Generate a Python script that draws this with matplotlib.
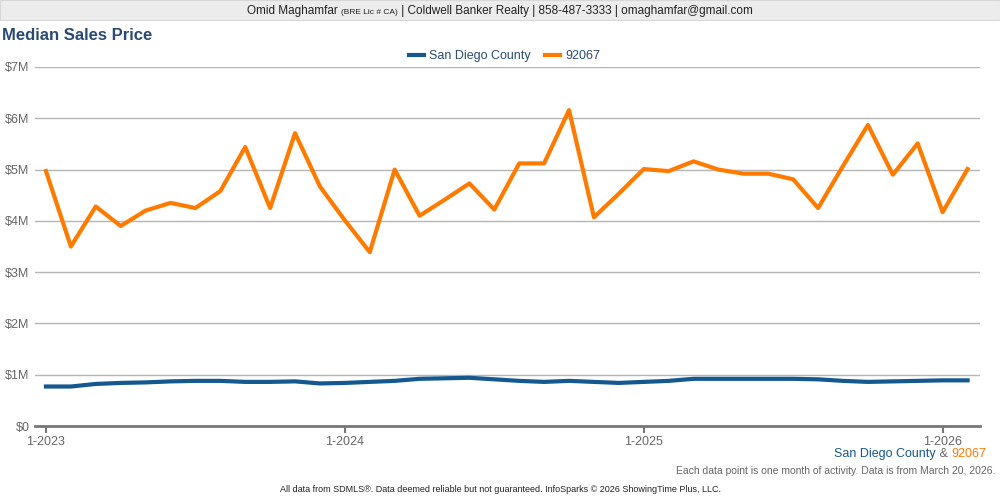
import matplotlib.pyplot as plt
from matplotlib.offsetbox import TextArea, HPacker, AnchoredOffsetbox
import numpy as np

plt.rcParams['font.family'] = ['Liberation Sans', 'DejaVu Sans']

# monthly data, 1-2023 .. 2-2026
months = list(range(38))
county = [0.77, 0.77, 0.82, 0.84, 0.85, 0.87, 0.88, 0.88, 0.86, 0.86,
          0.87, 0.83, 0.84, 0.86, 0.88, 0.92, 0.93, 0.94, 0.91, 0.88,
          0.86, 0.88, 0.86, 0.84, 0.86, 0.88, 0.92, 0.92, 0.92, 0.92,
          0.92, 0.91, 0.88, 0.86, 0.87, 0.88, 0.89, 0.89]
zip_92067 = [4.97, 3.50, 4.28, 3.90, 4.20, 4.35, 4.25, 4.58, 5.44, 4.25,
             5.71, 4.67, 4.01, 3.39, 5.00, 4.10, 4.41, 4.73, 4.22, 5.12,
             5.12, 6.16, 4.07, 4.53, 5.01, 4.97, 5.16, 5.00, 4.92, 4.92,
             4.81, 4.25, 5.07, 5.87, 4.90, 5.51, 4.17, 5.01]
tick_pos = [0, 12, 24, 36]
tick_labels = ['1-2023', '1-2024', '1-2025', '1-2026']
y_ticks = [0, 1, 2, 3, 4, 5, 6, 7]
y_labels = ['$0', '$1M', '$2M', '$3M', '$4M', '$5M', '$6M', '$7M']

blue = '#14588f'
orange = '#ff7b00'
grey = '#666666'
navy = '#2a4a73'

fig = plt.figure(figsize=(10, 5), dpi=100)

# header band
fig.patches.append(plt.Rectangle((0, 0.96), 1, 0.04, transform=fig.transFigure,
                                 facecolor='#ececec', edgecolor='#d8d8d8', lw=0.8))


def packed(parts, sep=0):
    boxes = [TextArea(t, textprops=dict(fontsize=fs, color=c)) for t, fs, c in parts]
    return HPacker(children=boxes, align='baseline', pad=0, sep=sep)


hdr = packed([('Omid Maghamfar ', 8.5, '#222222'),
              ('(BRE Lic # CA)', 6, '#222222'),
              (' | Coldwell Banker Realty | 858-487-3333 | omaghamfar@gmail.com', 8.5, '#222222')])
fig.add_artist(AnchoredOffsetbox(loc='center', child=hdr, pad=0, frameon=False,
                                 bbox_to_anchor=(0.5, 0.978), bbox_transform=fig.transFigure,
                                 borderpad=0))

fig.text(0.002, 0.93, 'Median Sales Price', ha='left', va='center', fontsize=12,
         fontweight='bold', color=navy)

ax = fig.add_axes([0.035, 0.148, 0.945, 0.718])
ax.plot(months, county, color=blue, lw=3, label='San Diego County', solid_joinstyle='round')
ax.plot(months, zip_92067, color=orange, lw=3, label='92067', solid_joinstyle='round')

ax.set_xlim(-0.44, 37.5)
ax.set_ylim(0, 7)
ax.set_yticks(y_ticks)
ax.set_yticklabels(y_labels)
ax.set_xticks(tick_pos)
ax.set_xticklabels(tick_labels)
ax.grid(axis='y', color='#b5b5b5', lw=1)
ax.set_axisbelow(True)
for s in ['top', 'right', 'left']:
    ax.spines[s].set_visible(False)
ax.spines['bottom'].set_color('#777777')
ax.spines['bottom'].set_linewidth(2)
ax.tick_params(axis='y', length=0, labelsize=9, labelcolor=grey, pad=4)
ax.tick_params(axis='x', length=5, width=1.5, color='#777777', labelsize=9,
               labelcolor=grey, pad=2)

ax.legend(loc='upper center', bbox_to_anchor=(0.497, 1.078), ncol=2, frameon=False,
          fontsize=9, handlelength=1.2, columnspacing=1.2, handletextpad=0.4,
          labelcolor=[navy, navy])

src = packed([('San Diego County', 9, blue), (' & ', 9, grey), ('92067', 9, orange)])
fig.add_artist(AnchoredOffsetbox(loc='center right', child=src, pad=0, frameon=False,
                                 bbox_to_anchor=(0.986, 0.092), bbox_transform=fig.transFigure,
                                 borderpad=0))
fig.text(0.995, 0.058, 'Each data point is one month of activity. Data is from March 20, 2026.',
         ha='right', va='center', fontsize=7.5, color=grey)
fig.text(0.5, 0.022, 'All data from SDMLS\u00ae. Data deemed reliable but not guaranteed. '
         'InfoSparks \u00a9 2026 ShowingTime Plus, LLC.',
         ha='center', va='center', fontsize=6.5, color='#222222')

fig.savefig('out.png', dpi=100)
